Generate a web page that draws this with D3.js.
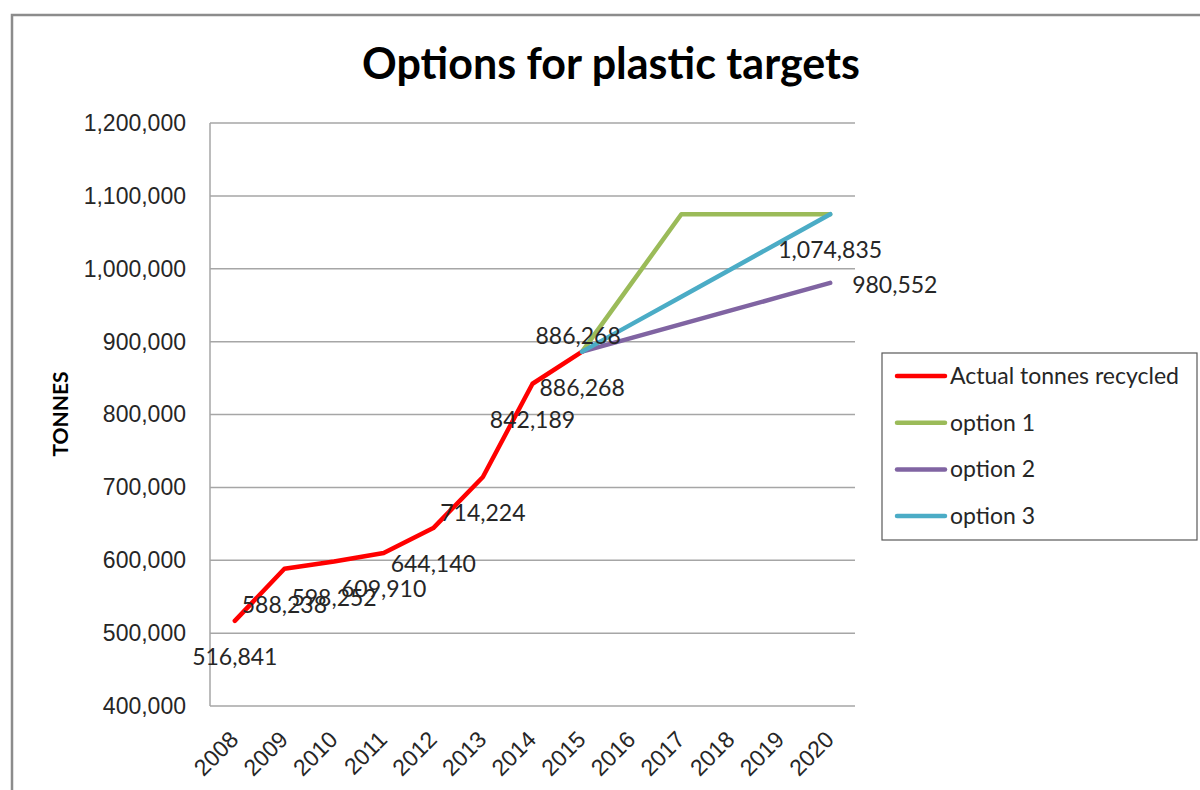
<!DOCTYPE html>
<meta charset="utf-8">
<html>
<head>
<style>
  body { margin: 0; background: #fff; }
  svg { display: block; font-family: Lato, "Open Sans", sans-serif; }
  .grid line { stroke: #a6a6a6; stroke-width: 1.5px; }
  .axis text { fill: #262626; font-size: 23px; }
  .lbl { fill: #262626; font-size: 23px; }
</style>
</head>
<body>
<svg width="1200" height="790"></svg>
<script src="https://cdnjs.cloudflare.com/ajax/libs/d3/7.8.5/d3.min.js"></script>
<script>

// years on the category axis
var years = ["2008","2009","2010","2011","2012","2013","2014","2015","2016","2017","2018","2019","2020"];

// series values (null = no point)
var actual  = [516841, 588238, 598252, 609910, 644140, 714224, 842189, 886268, null, null, null, null, null];
var option1 = [null, null, null, null, null, null, null, 886268, 980552, 1074835, 1074835, 1074835, 1074835];
var option2 = [null, null, null, null, null, null, null, 886268, 905125, 923982, 942839, 961695, 980552];
var option3 = [null, null, null, null, null, null, null, 886268, 923981, 961695, 999408, 1037122, 1074835];

var seriesNames = ["Actual tonnes recycled", "option 1", "option 2", "option 3"];
var yTicks = [400000, 500000, 600000, 700000, 800000, 900000, 1000000, 1100000, 1200000];

var colors = ["#ff0000", "#9bbb59", "#8064a2", "#4bacc6"];

var svg = d3.select("svg");

// outer chart frame
svg.append("rect")
    .attr("x", 12).attr("y", 15)
    .attr("width", 1220).attr("height", 820)
    .attr("fill", "none")
    .attr("stroke", "#8c8c8c")
    .attr("stroke-width", 2.5);

var plotLeft = 210, plotRight = 855, plotTop = 123, plotBottom = 706;

var x = d3.scaleBand().domain(years).range([plotLeft, plotRight]);
var y = d3.scaleLinear().domain([400000, 1200000]).range([plotBottom, plotTop]);
var cx = function(yr) { return x(yr) + x.bandwidth() / 2; };

// gridlines
svg.append("g").attr("class", "grid")
    .selectAll("line").data(yTicks).enter().append("line")
    .attr("x1", plotLeft).attr("x2", plotRight)
    .attr("y1", function(d) { return y(d); })
    .attr("y2", function(d) { return y(d); });

// left axis line
svg.append("line")
    .attr("x1", plotLeft).attr("x2", plotLeft)
    .attr("y1", plotTop).attr("y2", plotBottom)
    .attr("stroke", "#a6a6a6").attr("stroke-width", 1.5);

// y axis labels
var yAxis = svg.append("g").attr("class", "axis")
    .attr("transform", "translate(" + plotLeft + ",0)")
    .call(d3.axisLeft(y).tickValues(yTicks).tickFormat(d3.format(",")).tickSize(0).tickPadding(24));
yAxis.select(".domain").remove();

// x axis labels, rotated
var xAxis = svg.append("g").attr("class", "axis")
    .attr("transform", "translate(0," + plotBottom + ")")
    .call(d3.axisBottom(x).tickSize(0).tickPadding(0));
xAxis.select(".domain").remove();
xAxis.selectAll("text")
    .attr("text-anchor", "end")
    .attr("dy", 0)
    .attr("transform", "translate(5,35) rotate(-45)");

// title
svg.append("text")
    .attr("x", 611).attr("y", 79)
    .attr("text-anchor", "middle")
    .attr("font-size", 43)
    .attr("font-weight", "bold")
    .attr("fill", "#000")
    .text("Options for plastic targets");

// y axis title
svg.append("text")
    .attr("transform", "translate(68,414) rotate(-90)")
    .attr("text-anchor", "middle")
    .attr("font-size", 21)
    .attr("font-weight", "bold")
    .attr("fill", "#000")
    .text("TONNES");

// lines
var allSeries = [actual, option1, option2, option3];
var line = d3.line()
    .defined(function(d) { return d.v != null; })
    .x(function(d) { return cx(d.yr); })
    .y(function(d) { return y(d.v); });

allSeries.forEach(function(s, i) {
    svg.append("path")
        .datum(s.map(function(v, j) { return { yr: years[j], v: v }; }))
        .attr("fill", "none")
        .attr("stroke", colors[i])
        .attr("stroke-width", 4.5)
        .attr("stroke-linejoin", "round")
        .attr("stroke-linecap", "round")
        .attr("d", line);
});

// data labels
function label(yr, v, where) {
    var t = svg.append("text").attr("class", "lbl").text(d3.format(",")(v));
    if (where == "below") t.attr("x", cx(yr)).attr("y", y(v) + 44).attr("text-anchor", "middle");
    if (where == "above") t.attr("x", cx(yr) - 4).attr("y", y(v) - 8).attr("text-anchor", "middle");
    if (where == "right") t.attr("x", cx(yr) + 22).attr("y", y(v) + 10).attr("text-anchor", "start");
}
actual.forEach(function(v, j) { if (v != null) label(years[j], v, "below"); });
label("2015", option1[7], "above");
label("2020", option3[12], "below");
label("2020", option2[12], "right");

// legend
var lg = svg.append("g").attr("transform", "translate(882,353)");
lg.append("rect")
    .attr("width", 315).attr("height", 187)
    .attr("fill", "#fff")
    .attr("stroke", "#595959").attr("stroke-width", 1.2);
seriesNames.forEach(function(n, i) {
    var yy = 23 + i * 46.7;
    lg.append("line")
        .attr("x1", 15).attr("x2", 63)
        .attr("y1", yy).attr("y2", yy)
        .attr("stroke", colors[i]).attr("stroke-width", 4.5)
        .attr("stroke-linecap", "round");
    lg.append("text").attr("class", "lbl")
        .attr("x", 68).attr("y", yy + 8)
        .text(n);
});

</script>
</body>
</html>
